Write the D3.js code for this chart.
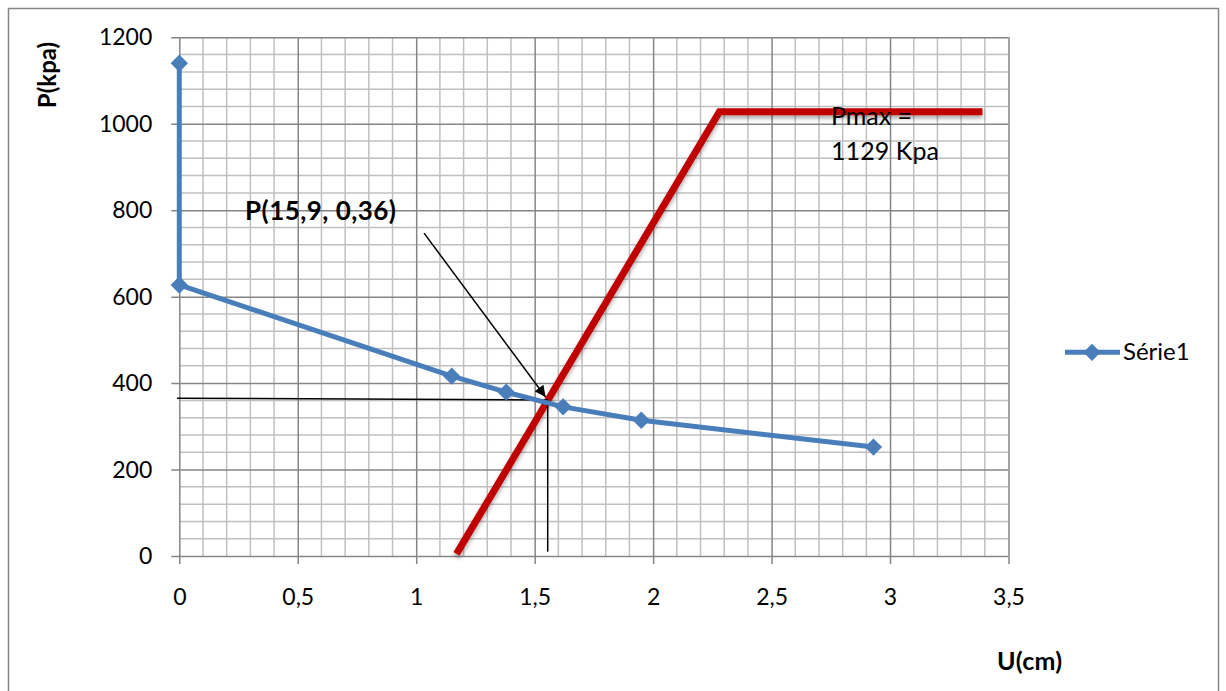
<!DOCTYPE html>
<html>
<head>
<meta charset="utf-8">
<script src="https://cdn.jsdelivr.net/npm/d3@7"></script>
<style>
  html, body { margin: 0; padding: 0; background: #fff; }
  svg { display: block; }
  text { font-family: Lato, "Liberation Sans", sans-serif; fill: #000; }
</style>
</head>
<body>
<svg id="chart" width="1226" height="691"></svg>
<script>
// Série1: plate load test curve, settlement U (cm) vs pressure P (kPa)
const serieU = [0, 0, 1.15, 1.38, 1.62, 1.95, 2.93];
const serieP = [1140, 627, 416, 379, 345, 314, 252];

// Red bearing line: rising branch then plateau (Pmax)
const limitU = [1.17, 2.28, 3.39];
const limitP = [5, 1028, 1028];

// Reading guides through the intersection point
const guideH = [[-0.01, 365], [1.555, 361]];
const guideV = [[1.555, 362], [1.555, 10]];
const arrowFrom = [1.033, 747];
const arrowTo = [1.546, 368];

const xTicks = [0, 0.5, 1, 1.5, 2, 2.5, 3, 3.5];
const yTicks = [0, 200, 400, 600, 800, 1000, 1200];
const xTickLabels = ["0", "0,5", "1", "1,5", "2", "2,5", "3", "3,5"];

const svg = d3.select("#chart");
const x = d3.scaleLinear().domain([0, 3.5]).range([179.3, 1008.5]);
const y = d3.scaleLinear().domain([0, 1200]).range([556, 37.3]);

const defs = svg.append("defs");
defs.append("filter").attr("id", "shadow").attr("x", "-10%").attr("y", "-10%")
  .attr("width", "120%").attr("height", "130%")
  .append("feDropShadow").attr("dx", 0).attr("dy", 3).attr("stdDeviation", 2)
  .attr("flood-color", "#000").attr("flood-opacity", 0.35);
defs.append("marker").attr("id", "arrowhead").attr("viewBox", "0 0 10 10")
  .attr("refX", 10).attr("refY", 5).attr("markerWidth", 15).attr("markerHeight", 11)
  .attr("markerUnits", "userSpaceOnUse").attr("orient", "auto")
  .append("path").attr("d", "M0,0 L10,5 L0,10 Z").attr("fill", "#000");

// chart frame
svg.append("rect").attr("x", 8.5).attr("y", 8.5).attr("width", 1210).attr("height", 700)
  .attr("fill", "#fff").attr("stroke", "#868686").attr("stroke-width", 1.5);

// minor grid
const minorX = d3.range(0, 35).map(i => i / 10).filter((v, i) => i % 5 !== 0);
const minorY = d3.range(0, 30).map(i => i * 40).filter((v, i) => i % 5 !== 0);
const grid = svg.append("g");
grid.selectAll(".mx").data(minorX).join("line")
  .attr("x1", d => x(d)).attr("x2", d => x(d)).attr("y1", y(0)).attr("y2", y(1200))
  .attr("stroke", "#c0c0c0").attr("stroke-width", 1.5);
grid.selectAll(".my").data(minorY).join("line")
  .attr("y1", d => y(d)).attr("y2", d => y(d)).attr("x1", x(0)).attr("x2", x(3.5))
  .attr("stroke", "#c0c0c0").attr("stroke-width", 1.5);

// major grid via axes
const yAxis = d3.axisLeft(y).tickValues(yTicks).tickSize(-(x(3.5) - x(0))).tickPadding(27)
  .tickFormat(d3.format("d"));
const gy = svg.append("g").attr("transform", `translate(${x(0)},0)`).call(yAxis);
gy.select(".domain").remove();
gy.selectAll(".tick line").attr("stroke", "#868686").attr("stroke-width", 1.5).attr("x1", -8);
gy.selectAll(".tick text").style("font-size", "23px").attr("dy", "0.33em");

const xAxis = d3.axisBottom(x).tickValues(xTicks).tickSize(-(y(0) - y(1200))).tickPadding(33)
  .tickFormat((d, i) => xTickLabels[i]);
const gx = svg.append("g").attr("transform", `translate(0,${y(0)})`).call(xAxis);
gx.select(".domain").remove();
gx.selectAll(".tick line").attr("stroke", "#868686").attr("stroke-width", 1.5).attr("y1", 8);
gx.selectAll(".tick text").style("font-size", "23px");

// red bearing line
svg.append("path")
  .datum(limitU.map((u, i) => [u, limitP[i]]))
  .attr("d", d3.line().x(d => x(d[0])).y(d => y(d[1])))
  .attr("fill", "none").attr("stroke", "#c00000").attr("stroke-width", 7)
  .attr("filter", "url(#shadow)");

// reading guides
const lineXY = d3.line().x(d => x(d[0])).y(d => y(d[1]));
svg.append("path").datum(guideH).attr("d", lineXY).attr("stroke", "#000").attr("stroke-width", 1.5);
svg.append("path").datum(guideV).attr("d", lineXY).attr("stroke", "#000").attr("stroke-width", 1.5);

// Série1
const serie = serieU.map((u, i) => [u, serieP[i]]);
svg.append("path").datum(serie).attr("d", lineXY)
  .attr("fill", "none").attr("stroke", "#4a7ebb").attr("stroke-width", 5)
  .attr("stroke-linejoin", "round");
const marker = d3.symbol().type(d3.symbolSquare).size(150);
svg.selectAll(".pt").data(serie).join("path")
  .attr("transform", d => `translate(${x(d[0])},${y(d[1])}) rotate(45)`)
  .attr("d", marker)
  .attr("fill", "#4a7ebb");

// arrow to the intersection
svg.append("line")
  .attr("x1", x(arrowFrom[0])).attr("y1", y(arrowFrom[1]))
  .attr("x2", x(arrowTo[0])).attr("y2", y(arrowTo[1]))
  .attr("stroke", "#000").attr("stroke-width", 1.5).attr("marker-end", "url(#arrowhead)");

// annotations
svg.append("text").attr("x", 245).attr("y", 220).attr("textLength", 151)
  .style("font-size", "26px").style("font-weight", "bold").text("P(15,9, 0,36)");
svg.append("text").attr("x", 831).attr("y", 125).style("font-size", "25px").text("Pmax =");
svg.append("text").attr("x", 831).attr("y", 160).attr("textLength", 108)
  .style("font-size", "25px").text("1129 Kpa");

// axis titles
svg.append("text").attr("transform", "translate(56,75) rotate(-90)")
  .attr("text-anchor", "middle").style("font-size", "24px").style("font-weight", "bold")
  .text("P(kpa)");
svg.append("text").attr("x", 997).attr("y", 670).attr("textLength", 65)
  .style("font-size", "25px").style("font-weight", "bold").text("U(cm)");

// legend
const lg = svg.append("g");
lg.append("line").attr("x1", 1065).attr("x2", 1120).attr("y1", 352.3).attr("y2", 352.3)
  .attr("stroke", "#4a7ebb").attr("stroke-width", 5);
lg.append("path").attr("transform", "translate(1092,352.3) rotate(45)")
  .attr("d", marker).attr("fill", "#4a7ebb");
lg.append("text").attr("x", 1123).attr("y", 360).style("font-size", "24px").text("Série1");
</script>
</body>
</html>
